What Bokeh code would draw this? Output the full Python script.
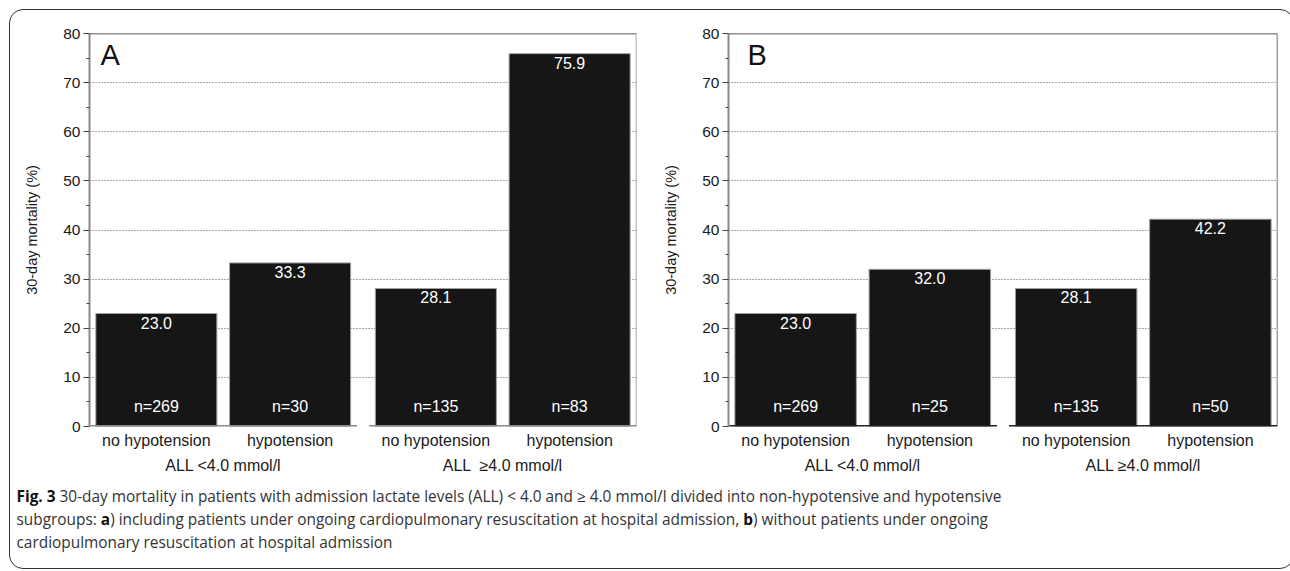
from bokeh.plotting import figure
from bokeh.models import (FactorRange, Range1d, FixedTicker, Label, Div,
                          ColumnDataSource, Span)
from bokeh.layouts import row, column
from bokeh.core.properties import value
from bokeh.embed import file_html
from bokeh.resources import INLINE

# ---------------- data ----------------
subgroups = ["no hypotension", "hypotension"]
groups_a = ["ALL <4.0 mmol/l", "ALL \u00a0\u22654.0 mmol/l"]
groups_b = ["ALL <4.0 mmol/l", "ALL \u22654.0 mmol/l"]
mortality_a = [23.0, 33.3, 28.1, 75.9]
mortality_b = [23.0, 32.0, 28.1, 42.2]
n_a = [269, 30, 135, 83]
n_b = [269, 25, 135, 50]
y_ticks = [0, 10, 20, 30, 40, 50, 60, 70, 80]
y_minor = [5, 15, 25, 35, 45, 55, 65, 75]
grid_ticks = [10, 20, 30, 40, 50, 60, 70]

FONT = "Liberation Sans"
GROUP_PAD = 0.09


def make_panel(letter, groups, vals, ns, width, bl, br, letter_dx, xaxis_color, frame_right_color):
    factors = [(g, s) for g in groups for s in subgroups]
    xr = FactorRange(*factors, range_padding=0, group_padding=GROUP_PAD, factor_padding=0)
    x_end = len(factors) + GROUP_PAD * (len(groups) - 1)
    p = figure(x_range=xr, y_range=Range1d(0, 80), width=width, height=470,
               output_backend="svg", toolbar_location=None,
               min_border_left=bl, min_border_right=br, min_border_top=23,
               min_border_bottom=54)
    p.outline_line_color = None
    p.background_fill_color = "white"
    p.border_fill_color = None

    src = ColumnDataSource(dict(x=factors, top=vals,
                                lab=["%.1f" % v for v in vals],
                                n=["n=%d" % k for k in ns]))
    p.vbar(x="x", top="top", width=0.905, source=src, fill_color="#161616",
           line_color="#a0a0a0", line_width=1)
    p.text(x="x", y="top", text="lab", source=src, text_color="white",
           text_align="center", text_baseline="top", y_offset=3,
           text_font=value(FONT), text_font_size="16px")
    p.text(x="x", y=0, text="n", source=src, text_color="white",
           text_align="center", text_baseline="middle", y_offset=-20,
           text_font=value(FONT), text_font_size="16px")

    # bottom axis line with a gap between the two groups
    seg = ColumnDataSource(dict(
        x0=[[g, subgroups[0], -0.5] for g in groups],
        x1=[[g, subgroups[-1], 0.5] for g in groups]))
    p.segment(x0="x0", y0=0, x1="x1", y1=0, source=seg,
              line_color=xaxis_color, line_width=3)

    # grid
    p.xgrid.grid_line_color = None
    p.ygrid.ticker = FixedTicker(ticks=grid_ticks)
    p.ygrid.grid_line_color = "#555555"
    p.ygrid.grid_line_dash = "1 2"
    p.ygrid.grid_line_width = 1

    # y axis
    yax = p.yaxis[0]
    yax.ticker = FixedTicker(ticks=y_ticks, minor_ticks=y_minor)
    yax.axis_line_color = "#8a8a8a"
    yax.axis_line_width = 2
    yax.major_tick_in = 0
    yax.major_tick_out = 6
    yax.minor_tick_in = 0
    yax.minor_tick_out = 3
    yax.major_tick_line_color = "#444444"
    yax.minor_tick_line_color = "#444444"
    yax.major_label_standoff = 3
    yax.major_label_text_font = FONT
    yax.major_label_text_font_size = "15.5px"
    yax.major_label_text_color = "#1a1a1a"
    yax.axis_label = "30-day mortality (%)"
    yax.axis_label_text_font = FONT
    yax.axis_label_text_font_style = "normal"
    yax.axis_label_text_font_size = "14.5px"
    yax.axis_label_text_color = "#1a1a1a"
    yax.axis_label_standoff = 20

    # x axis (categorical, two levels)
    xax = p.xaxis[0]
    xax.axis_line_color = None
    xax.major_tick_line_color = None
    xax.minor_tick_line_color = None
    xax.major_tick_out = 0
    xax.major_tick_in = 0
    xax.major_label_standoff = 5
    xax.major_label_text_font = FONT
    xax.major_label_text_font_size = "16px"
    xax.major_label_text_color = "#1a1a1a"
    xax.major_label_orientation = "horizontal"
    xax.group_text_font = FONT
    xax.group_text_font_size = "16px"
    xax.group_text_font_style = "normal"
    xax.group_text_color = "#1a1a1a"
    xax.separator_line_color = None

    # frame: top line and right line
    p.add_layout(Span(location=80, dimension="width", line_color="#222222",
                      line_width=1.5))
    p.add_layout(Span(location=x_end, dimension="height", line_color=frame_right_color,
                      line_width=1.5))

    p.add_layout(Label(x=0, y=80, x_offset=letter_dx, y_offset=-5.5, text=letter,
                       text_font=FONT, text_font_size="29px",
                       text_color="#111111", text_baseline="top"))
    return p


pa = make_panel("A", groups_a, mortality_a, n_a, 650, 79, 24, 11, "#8a8a8a", "#8a8a8a")
pb = make_panel("B", groups_b, mortality_b, n_b, 625, 66, 8, 19, "#222222", "#444444")

caption_html = (
    "<b style='color:#111'>Fig. 3</b> 30-day mortality in patients with admission lactate levels "
    "(ALL) &lt; 4.0 and \u2265 4.0 mmol/l divided into non-hypotensive and hypotensive<br>"
    "subgroups: <b style='color:#111'>a</b>) including patients under ongoing cardiopulmonary "
    "resuscitation at hospital admission, <b style='color:#111'>b</b>) without patients under ongoing<br>"
    "cardiopulmonary resuscitation at hospital admission"
)
cap = Div(text=caption_html, width=1273, height=78,
          styles={"font-family": "'Open Sans', sans-serif", "font-size": "15.4px",
                  "line-height": "23px", "color": "#333333",
                  "padding-left": "2px"})

layout = column(row(pa, pb), cap,
                styles={"border": "1.5px solid #333333", "border-radius": "14px",
                        "background": "white", "position": "relative",
                        "left": "8.5px", "top": "8.5px"})

open("out.html", "w").write(file_html(layout, INLINE))
